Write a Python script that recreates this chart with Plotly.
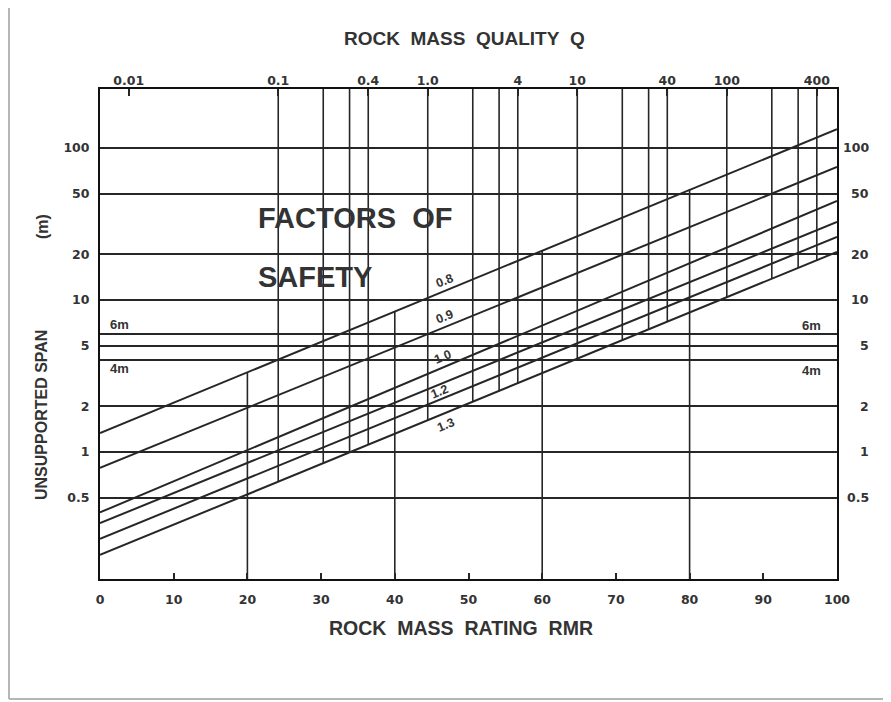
import numpy as np
import plotly.graph_objects as go

# ---------------- data ----------------
rmr_ends = [0, 100]
fos_names = ["0.8", "0.9", "1.0", "1.1", "1.2", "1.3"]
fos_span_at_rmr0 = [1.33, 0.785, 0.40, 0.34, 0.268, 0.21]
fos_span_at_rmr100 = [133, 75, 44.8, 32.6, 26.0, 20.7]

rmr_grid = [20, 40, 60, 80]
rmr_grid_top = [3.35, 8.4, 21.1, 53.1]
rmr_grid_bottom = 0.1

q_grid = [0.1, 0.2, 0.3, 0.4, 1, 2, 3, 4, 10, 20, 30, 40, 100, 200, 300, 400]
q_grid_bottom = [0.64, 0.84, 0.99, 1.12, 1.62, 2.14, 2.52, 2.83, 4.11, 5.43,
                 6.40, 7.19, 10.4, 13.8, 16.3, 18.3]
q_grid_top = 1000

q_ticks = [0.01, 0.1, 0.4, 1, 4, 10, 40, 100, 400]
q_ticktext = ["0.01", "0.1", "0.4", "1.0", "4", "10", "40", "100", "400"]
rmr_ticks = list(range(0, 101, 10))
span_ticks = [0.5, 1, 2, 4, 5, 6, 10, 20, 50, 100]
span_ticktext = ["0.5", "1", "2", "", "5", "", "10", "20", "50", "100"]
span_right_labels = [0.5, 1, 2, 5, 10, 20, 50, 100]

fos_label_text = ["0.8", "0.9", "1.0", "1.2", "1.3"]
fos_label_rmr = [46.7, 46.7, 46.5, 46.0, 46.9]
fos_label_span = [13.3, 7.73, 4.22, 2.48, 1.51]

span_note_text = ["6m", "4m", "6m", "4m"]
span_note_rmr = [2.7, 2.6, 96.6, 96.5]
span_note_span = [6.85, 3.52, 6.75, 3.46]

title_text = ["FACTORS\u00a0 OF", "SAFETY"]
title_rmr = [21.2, 21.2]
title_span = [34.6, 14.2]

# ---------------- figure ----------------
INK = "#262626"
FONT = "Liberation Sans, Arial, sans-serif"
TICKFONT_FAMILY = "DejaVu Sans, Liberation Sans, sans-serif"

fig = go.Figure()

for i, name in enumerate(fos_names):
    fig.add_trace(go.Scatter(
        x=rmr_ends, y=[fos_span_at_rmr0[i], fos_span_at_rmr100[i]],
        mode="lines", line=dict(color=INK, width=2), name="FS " + name,
        showlegend=False, hoverinfo="skip"))

for r, top in zip(rmr_grid, rmr_grid_top):
    fig.add_trace(go.Scatter(
        x=[r, r], y=[rmr_grid_bottom, top], mode="lines",
        line=dict(color=INK, width=1.6), showlegend=False, hoverinfo="skip"))

for q, bot in zip(q_grid, q_grid_bottom):
    fig.add_trace(go.Scatter(
        x=[q, q], y=[bot, q_grid_top], mode="lines", xaxis="x2", yaxis="y",
        line=dict(color=INK, width=1.6), showlegend=False, hoverinfo="skip"))

tickfont = dict(family=TICKFONT_FAMILY, size=12.5, color="#333", weight="bold")

# page body has an 8px margin, so the figure is sized/offset to compensate
fig.update_layout(
    width=883, height=694,
    margin=dict(l=92, r=54, t=81, b=123),
    paper_bgcolor="white", plot_bgcolor="white",
    showlegend=False,
    xaxis=dict(range=[0, 100], showgrid=False, zeroline=False,
               showline=True, mirror=True, linecolor="#111", linewidth=2,
               ticks="inside", ticklen=6, tickwidth=1.5, tickcolor=INK,
               tickvals=rmr_ticks, tickfont=tickfont, ticklabelstandoff=8),
    xaxis2=dict(type="log", overlaying="x", side="top", anchor="y",
                range=[-2.192, 2.737], showgrid=False, zeroline=False,
                showline=False, ticks="inside", ticklen=7, tickwidth=1.5,
                tickcolor=INK, tickvals=q_ticks, ticktext=q_ticktext,
                tickfont=tickfont, ticklabelstandoff=1),
    yaxis=dict(type="log", range=[-0.836, 2.388], showgrid=True,
               gridcolor=INK, gridwidth=1.5, zeroline=False,
               showline=True, mirror=True, linecolor="#111", linewidth=2,
               ticks="", tickvals=span_ticks, ticktext=span_ticktext,
               tickfont=tickfont, ticklabelstandoff=6),
)

ann = []
for v in span_right_labels:
    ann.append(dict(x=1.0461, xref="paper", y=np.log10(v), yref="y",
                    text=str(v), showarrow=False, xanchor="right",
                    yanchor="middle", font=tickfont))

for t, r, s in zip(fos_label_text, fos_label_rmr, fos_label_span):
    ann.append(dict(x=r, y=np.log10(s), xref="x", yref="y", text=t,
                    showarrow=False, textangle=-22,
                    font=dict(family=FONT, size=12.5, color="#333", weight="bold")))

for t, r, s in zip(span_note_text, span_note_rmr, span_note_span):
    ann.append(dict(x=r, y=np.log10(s), xref="x", yref="y", text=t,
                    showarrow=False,
                    font=dict(family=FONT, size=13, color="#333", weight="bold")))

for t, r, s in zip(title_text, title_rmr, title_span):
    ann.append(dict(x=r, y=np.log10(s), xref="x", yref="y", text=t,
                    showarrow=False, xanchor="left", yanchor="middle",
                    font=dict(family=FONT, size=29, color="#333", weight="bold")))

ann.append(dict(x=0.4939, y=1.104, xref="paper", yref="paper",
                text="ROCK\u00a0 MASS\u00a0 QUALITY\u00a0 Q", showarrow=False,
                xanchor="center", yanchor="middle",
                font=dict(family=FONT, size=19, color="#333", weight="bold")))
ann.append(dict(x=0.4898, y=-0.100, xref="paper", yref="paper",
                text="ROCK\u00a0 MASS\u00a0 RATING\u00a0 RMR", showarrow=False,
                xanchor="center", yanchor="middle",
                font=dict(family=FONT, size=19.5, color="#333", weight="bold")))
ann.append(dict(x=-0.0787, y=0.3347, xref="paper", yref="paper",
                text="UNSUPPORTED SPAN", showarrow=False, textangle=-90,
                xanchor="center", yanchor="middle",
                font=dict(family=FONT, size=16, color="#333", weight="bold")))
ann.append(dict(x=-0.0787, y=0.7204, xref="paper", yref="paper",
                text="(m)", showarrow=False, textangle=-90,
                xanchor="center", yanchor="middle",
                font=dict(family=FONT, size=16, color="#333", weight="bold")))
fig.update_layout(annotations=ann)

# paper frame of the scanned sheet
frame = dict(color="#b5b5b5", width=2)
fig.add_shape(type="line", xref="paper", yref="paper",
              x0=-0.1235, x1=-0.1235, y0=-0.2449, y1=1.1755, line=frame)
fig.add_shape(type="line", xref="paper", yref="paper",
              x0=-0.1235, x1=1.08, y0=1.1755, y1=1.1755,
              line=dict(color="#dddddd", width=2))
fig.add_shape(type="line", xref="paper", yref="paper",
              x0=-0.1235, x1=1.08, y0=-0.2449, y1=-0.2449, line=frame)

fig.write_html("out.html")
